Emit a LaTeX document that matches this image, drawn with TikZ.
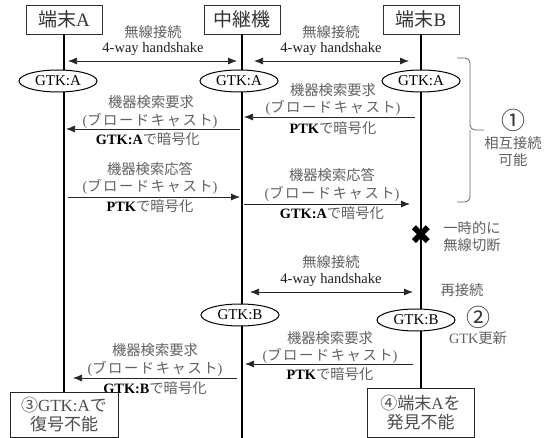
\documentclass[tikz,border=0pt]{standalone}
\usepackage{fontspec}
\setmainfont{Liberation Serif}
\newfontfamily\jp{Noto Sans CJK JP}
\newfontfamily\jpw[LetterSpace=11]{Noto Sans CJK JP}
\newfontfamily\dv{DejaVu Sans}
\usetikzlibrary{arrows.meta,shapes.geometric}
\newcommand\latn[1]{{\rmfamily\color{black}#1}}
\newcommand\latb[1]{{\rmfamily\bfseries\color{black}#1}}
\newcommand\bcast{{\rmfamily(}{\jpw ブロードキャスト}{\rmfamily)}}
\tikzset{
 life/.style={line width=1.1pt, draw=black},
 hdr/.style={draw=black!80, line width=0.8pt, fill=white, minimum width=76pt, minimum height=29pt, inner sep=0pt, font=\fontsize{19}{20}\selectfont, text=black!80},
 gtk/.style={draw, ellipse, line width=1pt, fill=white, minimum width=78pt, minimum height=22pt, inner sep=0pt, font=\fontsize{15}{16}\selectfont},
 jt/.style={font=\fontsize{14.3}{16}\selectfont\jp, text=black!62, inner sep=0pt},
 et/.style={font=\fontsize{14.5}{16}\selectfont, text=black!88, inner sep=0pt},
 msg/.style={-{Latex[length=9pt,width=7pt]}, line width=0.75pt, draw=black!85},
 hs/.style={{Latex[length=9pt,width=7pt]}-{Latex[length=9pt,width=7pt]}, line width=0.75pt, draw=black!85},
 notebox/.style={draw=black!85, line width=0.8pt, fill=white, inner sep=0pt, align=center, font=\fontsize{17}{19}\selectfont\jp, text=black!70},
 circ/.style={font=\fontsize{24}{24}\selectfont\jp, text=black!80, inner sep=0pt},
 brc/.style={draw=black!60, line width=0.8pt, rounded corners=5pt}
}
\begin{document}
\begin{tikzpicture}[x=1pt,y=-1pt]
\fill[white] (0,0) rectangle (551,438);
\useasboundingbox (0,0) rectangle (551,438);

% headers
\node[hdr] (hA) at (64,19.5) {{\jp 端末}A};
\node[hdr] (hR) at (242,19.5) {\jp 中継機};
\node[hdr] (hB) at (421,19.5) {{\jp 端末}B};

% lifeline ends
\coordinate (Aend) at (64,392);
\coordinate (Rend) at (242,438);
\coordinate (Bend) at (421,438);
\draw[life] (hA.south) -- (Aend);
\draw[life] (hR.south) -- (Rend);
\draw[life] (hB.south) -- (Bend);

% handshake 1
\node[jt] (h1a) at (153,32) {無線接続};
\node[et] (h1b) at (153,49) {4-way handshake};
\coordinate (h1s) at (68,61); \coordinate (h1e) at (237,61);
\draw[hs] (h1s) -- (h1e);
\node[jt] (h2a) at (331,32) {無線接続};
\node[et] (h2b) at (331,49) {4-way handshake};
\coordinate (h2s) at (254,61); \coordinate (h2e) at (409,61);
\draw[hs] (h2s) -- (h2e);

% GTK:A ellipses
\node[gtk] (gA1) at (58,81) {GTK:A};
\node[gtk] (gR1) at (239,81) {GTK:A};
\node[gtk] (gB1) at (421,81) {GTK:A};

% message 1 right (B -> R)
\node[jt] (m1a) at (333,90) {機器検索要求};
\node[jt] (m1b) at (333,108) {\bcast};
\node[jt] (m1c) at (333,128) {\latb{PTK}で暗号化};
\coordinate (m1s) at (415,117); \coordinate (m1e) at (244,117);
\draw[msg] (m1s) -- (m1e);

% message 1 left (R -> A)
\node[jt] (m2a) at (151,102) {機器検索要求};
\node[jt] (m2b) at (150,121) {\bcast};
\node[jt] (m2c) at (148,139) {\latb{GTK:A}で暗号化};
\coordinate (m2s) at (240,129); \coordinate (m2e) at (66,129);
\draw[msg] (m2s) -- (m2e);

% message 2 left (A -> R)
\node[jt] (m3a) at (150,169) {機器検索応答};
\node[jt] (m3b) at (150,187) {\bcast};
\node[jt] (m3c) at (150,206) {\latb{PTK}で暗号化};
\coordinate (m3s) at (68,197); \coordinate (m3e) at (240,197);
\draw[msg] (m3s) -- (m3e);

% message 2 right (R -> B)
\node[jt] (m4a) at (332,175) {機器検索応答};
\node[jt] (m4b) at (332,194) {\bcast};
\node[jt] (m4c) at (332,213) {\latb{GTK:A}で暗号化};
\coordinate (m4s) at (244,204); \coordinate (m4e) at (410,204);
\draw[msg] (m4s) -- (m4e);

% brace and note 1
\draw[brc] (457,58) -- (470,58) -- (470,130) -- (484,130);
\draw[brc] (457,202) -- (470,202) -- (470,130);
\node[circ] (c1) at (513,120) {①};
\node[jt] (c1a) at (513,143) {相互接続};
\node[jt] (c1b) at (513,160) {可能};

% disconnect
\node[font=\dv\fontsize{27}{27}\selectfont, inner sep=0pt] (cut) at (421,235) {✖};
\node[jt] (cutA) at (472,228) {一時的に};
\node[jt] (cutB) at (472,245) {無線切断};

% handshake 2
\node[jt] (h3a) at (331,262) {無線接続};
\node[et] (h3b) at (331,280) {4-way handshake};
\coordinate (h3s) at (250,292); \coordinate (h3e) at (413,292);
\draw[hs] (h3s) -- (h3e);
\node[jt] (rec) at (462,290) {再接続};

% GTK:B ellipses
\node[gtk] (gR2) at (240,315) {GTK:B};
\node[gtk] (gB2) at (416,320) {GTK:B};
\node[circ] (c2) at (478,317) {②};
\node[jt] (c2a) at (478,338) {\rmfamily GTK\jp 更新};

% message 3 right (B -> R)
\node[jt] (m5a) at (330,338) {機器検索要求};
\node[jt] (m5b) at (330,356) {\bcast};
\node[jt] (m5c) at (330,374) {\latb{PTK}で暗号化};
\coordinate (m5s) at (413,364); \coordinate (m5e) at (245,364);
\draw[msg] (m5s) -- (m5e);

% message 3 left (R -> A)
\node[jt] (m6a) at (155,350) {機器検索要求};
\node[jt] (m6b) at (155,369) {\bcast};
\node[jt] (m6c) at (155,388) {\latb{GTK:B}で暗号化};
\coordinate (m6s) at (237,378); \coordinate (m6e) at (73,378);
\draw[msg] (m6s) -- (m6e);

% result boxes
\node[notebox, minimum width=108pt, minimum height=45pt] (n3) at (64,414.5) {③{\rmfamily GTK:A}で\\復号不能};
\node[notebox, minimum width=107pt, minimum height=49pt] (n4) at (420.5,412.5) {④端末{\rmfamily A}を\\発見不能};
\end{tikzpicture}
\end{document}
